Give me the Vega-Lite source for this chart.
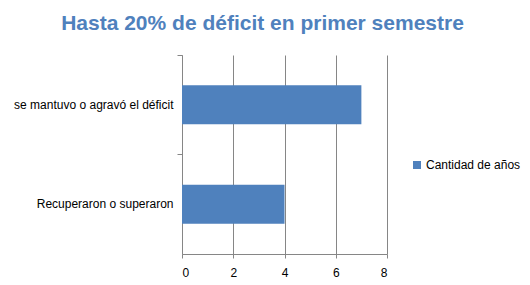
{
  "$schema": "https://vega.github.io/schema/vega-lite/v6.json",
  "width": 205,
  "height": 199,
  "autosize": "none",
  "padding": {"left": 182, "top": 55, "right": 143, "bottom": 31},
  "background": "white",
  "title": {
    "text": "Hasta 20% de déficit en primer semestre",
    "font": "Liberation Sans",
    "fontSize": 21,
    "fontWeight": "bold",
    "color": "#4F81BD",
    "anchor": "middle",
    "dx": -22,
    "offset": 21
  },
  "data": {
    "values": [
      {"categoria": "se mantuvo o agravó el déficit", "serie": "Cantidad de años", "valor": 7},
      {"categoria": "Recuperaron o superaron", "serie": "Cantidad de años", "valor": 4}
    ]
  },
  "mark": {"type": "bar", "height": {"band": 0.39}},
  "encoding": {
    "y": {
      "field": "categoria",
      "type": "nominal",
      "sort": null,
      "scale": {"paddingInner": 0, "paddingOuter": 0},
      "axis": {
        "title": null,
        "bandPosition": 0,
        "labelFont": "Liberation Sans",
        "labelFontSize": 12,
        "labelColor": "#000000",
        "labelPadding": 4,
        "domainColor": "#868686",
        "tickColor": "#868686",
        "tickSize": 5
      }
    },
    "x": {
      "field": "valor",
      "type": "quantitative",
      "scale": {"domain": [0, 8]},
      "axis": {
        "title": null,
        "values": [0, 2, 4, 6, 8],
        "labelFont": "Liberation Sans",
        "labelFontSize": 12,
        "labelColor": "#000000",
        "labelPadding": 9,
        "domainColor": "#868686",
        "tickColor": "#868686",
        "tickSize": 4,
        "gridColor": "#868686",
        "gridOpacity": 1
      }
    },
    "color": {
      "field": "serie",
      "type": "nominal",
      "scale": {"range": ["#4F81BD"]},
      "legend": {
        "title": null,
        "orient": "none",
        "legendX": 229,
        "legendY": 104,
        "symbolType": "square",
        "symbolSize": 64,
        "symbolStrokeWidth": 0,
        "labelFont": "Liberation Sans",
        "labelFontSize": 12,
        "labelColor": "#000000",
        "labelOffset": 3
      }
    }
  },
  "config": {
    "view": {"stroke": null}
  }
}
